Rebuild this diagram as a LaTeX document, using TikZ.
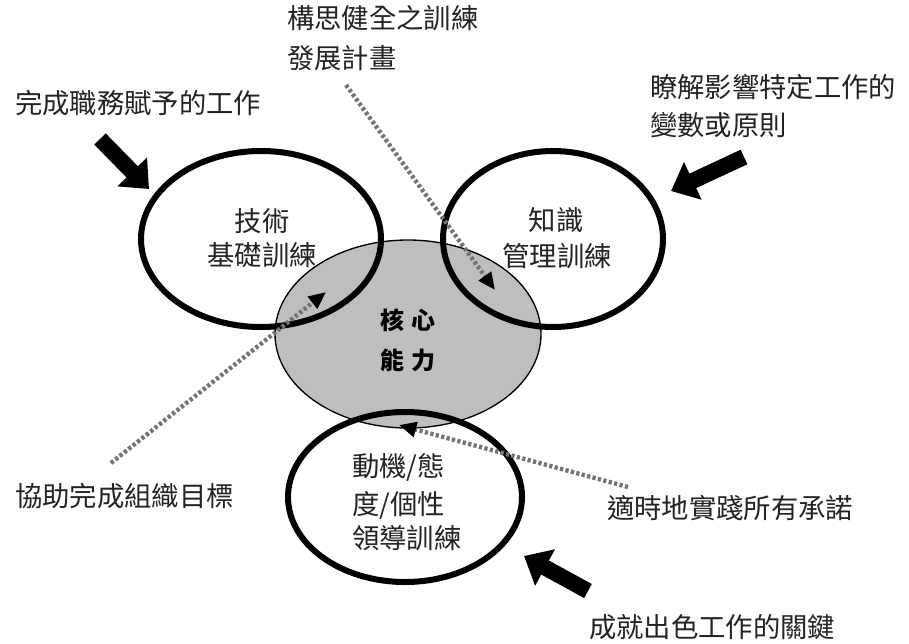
\documentclass[tikz,border=0pt]{standalone}
\usepackage{fontspec}
\newfontfamily\cjk{Noto Sans CJK TC}
\usetikzlibrary{arrows.meta}
\definecolor{coregray}{RGB}{190,190,190}
\definecolor{txt}{RGB}{35,35,35}
\begin{document}
\begin{tikzpicture}[x=0.75pt,y=-0.75pt,
  font=\cjk\fontsize{20.5}{24}\selectfont,
  lbl/.style={inner sep=0pt, anchor=west, text=txt},
  ctr/.style={inner sep=0pt, text=txt},
  ring/.style={draw=black, line width=4.5pt},
  blockarrow/.style={draw=black, line width=12pt, -{Triangle[length=18pt,width=30pt]}},
  dotarrow/.style={draw=black!55, line width=3.3pt, dash pattern=on 2.4pt off 1.8pt,
     -{Triangle[length=13pt,width=11pt,color=black]}}]
\useasboundingbox (0,0) rectangle (909,643);
\fill[white] (0,0) rectangle (909,643);

% core ellipse
\filldraw[fill=coregray, draw=black, line width=1pt] (408,334) ellipse [x radius=133, y radius=94];

% rings
\draw[ring] (261,239) ellipse [x radius=120, y radius=88];
\draw[ring] (553,239) ellipse [x radius=110, y radius=88];
\draw[ring] (405,497) ellipse [x radius=117, y radius=85];

% coordinates for arrows
\coordinate (a1t) at (100,139); \coordinate (a1h) at (149,189);
\coordinate (a2t) at (744,157); \coordinate (a2h) at (671,191);
\coordinate (a3t) at (588,591); \coordinate (a3h) at (524,556);
\coordinate (d1s) at (346,85);  \coordinate (d1h) at (495,290);
\coordinate (d2s) at (111,463); \coordinate (d2h) at (326,292);
\coordinate (d3s) at (628,487); \coordinate (d3h) at (399,425);

\draw[blockarrow] (a1t) -- (a1h);
\draw[blockarrow] (a2t) -- (a2h);
\draw[blockarrow] (a3t) -- (a3h);

\draw[dotarrow] (d1s) -- (d1h);
\draw[dotarrow] (d2s) -- (d2h);
\draw[dotarrow] (d3s) -- (d3h);

% texts
\node[lbl] (t1) at (15,103) {完成職務賦予的工作};
\node[lbl] (t2a) at (287,18) {構思健全之訓練};
\node[lbl] (t2b) at (287,58) {發展計畫};
\node[lbl] (t3a) at (650,87) {瞭解影響特定工作的};
\node[lbl] (t3b) at (650,125) {變數或原則};
\node[ctr] (s1) at (262,221) {技術};
\node[ctr] (s2) at (262,255) {基礎訓練};
\node[ctr] (k1) at (556,220) {知識};
\node[ctr] (k2) at (557,256) {管理訓練};
\node[ctr, font=\cjk\bfseries\fontsize{18}{22}\selectfont, text=black] (c1) at (408,320) {核\,\,心};
\node[ctr, font=\cjk\bfseries\fontsize{18}{22}\selectfont, text=black] (c2) at (408,360) {能\,\,力};
\node[lbl] (m1) at (352,467) {動機/態};
\node[lbl] (m2) at (352,505) {度/個性};
\node[lbl] (m3) at (352,538) {領導訓練};
\node[lbl] (t4) at (15,496) {協助完成組織目標};
\node[lbl] (t5) at (607,508) {適時地實踐所有承諾};
\node[lbl] (t6) at (589,627) {成就出色工作的關鍵};
\end{tikzpicture}
\end{document}
